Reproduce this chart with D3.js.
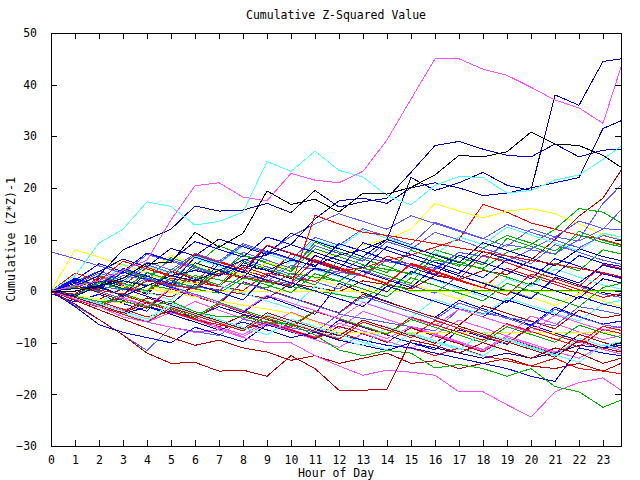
<!DOCTYPE html>
<html>
<head>
<meta charset="utf-8">
<title>Cumulative Z-Squared Value</title>
<script src="https://d3js.org/d3.v7.min.js"></script>
<style>
  body { margin: 0; background: #fff; }
  text { font-family: "DejaVu Sans Mono", "Liberation Mono", monospace; font-size: 11.5px; fill: #000; }
</style>
</head>
<body>
<div id="chart"></div>
<script>
// sample times (hour of day), one value per hour plus the last quarter
const hours = [0,1,2,3,4,5,6,7,8,9,10,11,12,13,14,15,16,17,18,19,20,21,22,23,23.75];
const xTicks = [0,1,2,3,4,5,6,7,8,9,10,11,12,13,14,15,16,17,18,19,20,21,22,23];
const yTicks = [-30,-20,-10,0,10,20,30,40,50];

const palette = {
  red: "#ff0000", green: "#00b000", blue: "#0000ff", magenta: "#ff50ff",
  cyan: "#50ffff", darkred: "#b00000", yellow: "#ffff00", medblue: "#5a5aff",
  navy: "#0000b0", black: "#000000"
};

// colour of each line, same order as lineValues
const lineColors = [
  "red","green","blue","magenta","cyan","darkred","yellow","medblue","navy",
  "red","yellow","darkred","medblue","medblue","green",
  "medblue","blue","magenta","magenta","darkred","red","blue","navy",
  "medblue","cyan","green","medblue","red","blue","cyan","darkred","green","yellow","yellow",
  "red","blue","green","magenta","cyan","darkred","navy","red","medblue","cyan","green","blue","medblue",
  "navy","blue","red","green",
  "magenta","green","darkred","red",
  "navy","navy","navy","cyan","black","magenta"
];

// cumulative (z*z)-1 per line, one value per entry of hours
const lineValues = [
  [0.5,-1.2,2.8,1.1,4.6,3.0,1.8,5.9,4.1,2.7,7.2,5.6,4.0,2.9,6.8,5.1,3.3,2.0,0.6,4.4,2.9,1.3,-0.2,3.5,2.4],
  [0,1.9,0.4,3.8,2.1,6.5,4.9,8.8,7.0,5.6,4.1,9.5,7.6,6.2,4.8,3.1,8.0,6.6,5.1,10.2,8.7,7.1,11.6,9.8,8.9],
  [-0.5,-2.1,-0.6,-2.4,-3.9,0.8,-0.9,-2.5,-4.1,-1.0,-2.7,-4.5,1.5,-0.3,-2.0,-3.6,-5.1,-1.8,-3.4,-5.0,-6.6,-3.1,-4.9,-6.4,-5.8],
  [0,-1.6,-3.0,-1.2,-2.9,-4.4,-2.0,-3.7,-5.3,-6.8,-4.1,-5.8,-7.2,-3.9,-5.5,-7.0,-8.4,-5.6,-7.1,-8.7,-4.8,-6.3,-7.9,-9.4,-8.6],
  [0,2.6,1.0,5.2,3.5,2.0,6.4,4.8,3.1,1.7,5.9,4.2,2.8,1.3,-0.2,3.6,2.1,0.5,-1.1,2.4,0.9,4.3,2.7,1.2,0.4],
  [0,-1.4,-2.9,-4.3,-2.2,-3.8,-5.4,-6.9,-4.6,-6.2,-7.7,-9.2,-6.8,-8.3,-9.9,-7.1,-8.7,-10.2,-11.8,-9.0,-10.6,-12.1,-8.4,-9.9,-11.0],
  [0,8.0,6.6,5.0,3.6,6.9,5.3,3.8,2.2,5.6,4.1,2.5,1.0,-0.5,2.9,1.4,-0.1,-1.6,1.8,0.3,-1.2,-2.8,-0.4,-1.9,-3.0],
  [7.6,6.3,4.9,3.4,7.1,5.8,4.3,2.9,6.2,4.7,3.3,1.8,0.4,4.0,2.5,1.1,-0.4,3.0,1.6,0.1,-1.3,2.4,0.9,-0.6,-1.2],
  [0,-1.2,2.4,0.9,-0.6,3.8,2.3,0.8,5.5,4.0,2.4,6.9,5.3,3.8,2.2,0.7,4.6,3.0,1.5,0,-1.5,2.7,1.2,-0.3,-0.9],
  [0,-0.8,1.5,0.7,-0.1,2.5,1.7,0.9,0.1,3.5,2.7,1.9,4,4.5,6,7,8.5,10,16.8,15.3,13.2,12,10.8,10,9],
  [0,-0.8,1.5,0.7,3,2.2,1.4,4,3.2,5.5,4.7,7.5,6.7,9,10,12,17,15.5,14.2,15.5,16,15,13,11,10],
  [0,-0.8,-1.6,0.5,-0.3,-1.1,1,0.2,-0.6,-1.4,1.5,0.7,-0.1,2,1.2,0.4,3,2.2,4,3.2,6,10,14.5,18,23.4],
  [0,1.5,0.7,3,2.2,1.4,0.6,3.5,2.7,1.9,5,4.2,3.4,6.5,5.7,4.9,4.1,7.5,6.7,5.9,8,7.2,10,17,20.5],
  [0,-0.8,1,0.2,2.5,1.7,0.9,0.1,3,2.2,1.4,4.5,3.7,2.9,6,5.2,4.4,7.5,6.7,9,8.2,10.5,9.7,12,15.7],
  [0,0.7,-0.1,2,1.2,0.4,3,2.2,1.4,0.6,3.5,2.7,1.9,5,4.2,3.4,6,5.2,4.4,7.5,9,12,16,15.3,13.2],
  [0,-2.8,-5.5,-8.5,-11.5,-7,-7.8,-8.6,-5.5,-6.3,-7.1,-7.9,-4.5,-5.3,-6.1,-6.9,-7.7,-3.5,-4.3,-5.1,-5.9,-6.7,-3,-3.8,-4.5],
  [0,-3,-6.5,-8,-9,-10,-7,-8.4,-9.8,-6.5,-7.9,-9.3,-5.6,-7.0,-8.5,-10,-11.4,-7.5,-8.9,-10.3,-6.6,-8.1,-9.6,-11,-10.5],
  [0,-1.5,-3,-4.5,-6,-4.1,-5.6,-7.2,-8.8,-6.3,-7.8,-9.4,-10.9,-8.2,-9.7,-11.2,-8.5,-10.0,-11.6,-9.0,-10.5,-12.0,-9.8,-11.3,-12.2],
  [0,-0.8,-2.3,-3.8,-2.0,-3.5,-5.0,-7,-8.4,-5.9,-7.4,-8.9,-6.2,-7.7,-9.2,-6.8,-8.3,-9.8,-11.3,-8.7,-10.2,-11.7,-13,-10.5,-11.5],
  [0,-1.8,-3.6,-5.4,-7.2,-9,-10.5,-9.5,-11,-11.8,-13.4,-12.5,-14,-13,-12,-14,-13.5,-15,-14,-13,-14.5,-15,-14,-15.5,-14],
  [0,-1,-2,-3.5,-5,-4,-5.5,-6.5,-7.5,-6,-7.5,-9,-8,-9.5,-10.5,-11,-12.5,-11,-12.5,-13.5,-14.5,-13,-15,-15.5,-16],
  [0,-1,-2,-1.5,-3,-4,-5,-3,-4.5,-5.5,-6.5,-7.5,-8.5,-9.5,-10.5,-11,-12,-13,-14,-15,-16.5,-17.5,-11,-12,-12.5],
  [0,-1.5,-3,-4.5,-3,-4.5,-6,-7.5,-6,-7.5,-9,-8,-9.5,-10.5,-11.5,-10,-11,-12,-13,-12,-13,-12,-10.5,-11,-10],
  [0,1.8,3.9,2.4,5.6,4.1,7.3,5.8,9.2,7.6,6.1,10.4,8.9,12.1,10.6,9.0,13.3,11.8,10.2,8.7,12.0,10.5,13.6,12.1,11.9],
  [0,0.8,3.2,1.7,4.9,3.4,6.8,5.3,8.7,7.2,5.6,9.9,8.4,11.8,10.2,8.7,7.1,10.5,9.0,12.4,10.9,9.3,7.8,11.2,10.5],
  [0,-0.7,1.5,4.0,2.5,1.0,4.8,3.3,6.9,5.4,3.8,8.2,6.7,5.1,3.6,7.9,6.4,4.8,8.3,10.8,9.3,7.8,10.9,9.4,8.6],
  [0,2.4,0.9,4.2,2.7,6.1,4.6,3.0,7.5,6.0,4.4,8.8,7.3,5.8,9.6,8.1,11.4,9.9,8.3,6.8,5.3,9.0,7.5,6.0,5.2],
  [0,-0.6,2.8,1.3,-0.2,3.9,2.4,0.9,4.7,3.2,1.6,6.1,4.6,3.0,1.5,5.4,3.9,2.3,7.0,5.5,3.9,2.4,0.9,5.2,4.4],
  [0,1.8,0.3,3.7,2.2,0.7,5.5,4.0,2.4,7.8,6.3,4.7,9.2,7.7,6.1,4.6,3.1,7.0,5.5,4.0,2.4,6.3,4.8,3.3,2.6],
  [0,-1.1,-2.5,1.3,-0.2,-1.7,2.6,1.1,-0.4,-1.9,-3.4,0.9,-0.6,-2.1,-3.6,-5.1,-1.6,-3.1,-4.6,-1.3,-2.8,-4.3,-5.8,-2.5,-1.8],
  [0,1.2,-0.3,-1.8,-3.3,0.5,-1.0,-2.5,1.8,0.3,-1.2,-2.7,-4.2,-0.6,-2.1,-3.6,-5.1,-6.6,-2.8,-4.3,-5.8,-7.3,-3.7,-5.2,-4.6],
  [0,1,0.2,-0.6,2,1.2,0.4,-0.4,2.5,1.7,0.9,0.1,-0.7,-1.5,1.5,0.05,0.05,0.05,0.05,0.05,0.05,0.05,0.05,0.05,0.05],
  [0,0.8,1.6,0.8,1.2,-0.15,-0.15,-0.15,-0.15,-0.15,-0.15,-0.15,-0.15,-0.15,-0.15,-0.15,-0.15,-0.15,-0.15,-0.15,-0.15,-0.15,-0.15,-0.15,-0.15],
  [0,-0.8,-1.6,-2.4,0.5,-0.3,-1.1,-1.9,-2.7,-3.5,-4.3,-6,-8.1,-8.1,-8.1,-8.1,-8.1,-8.1,-8.1,-8.1,-8.1,-8.1,-8.1,-8.1,-8.1],
  [0,-1.6,-3.1,-0.8,-2.3,-3.8,-5.3,-2.5,-4.0,-5.5,-7.0,-3.9,-5.4,-6.9,-8.4,-5.0,-6.5,-8.0,-9.5,-6.3,-7.8,-9.3,-10.8,-7.4,-8.2],
  [0,-0.8,2.0,0.5,-1.0,-2.5,1.3,-0.2,-1.7,3.1,1.6,0.0,-1.5,-3.0,1.0,-0.5,-2.0,-3.5,-5.0,-1.7,-3.2,-4.7,-1.0,-2.5,-3.3],
  [0,-1.2,-2.7,-0.5,-2.0,-3.5,-5.0,-2.2,-3.7,-5.2,-6.7,-3.8,-5.3,-6.8,-8.3,-5.5,-7.0,-8.5,-10.0,-6.9,-8.4,-9.9,-6.6,-8.1,-9.0],
  [0,1.5,0.0,-1.5,-3.0,0.6,-0.9,-2.4,-3.9,-0.8,-2.3,-3.8,-5.3,-2.2,-3.7,-5.2,-6.7,-3.5,-5.0,-6.5,-8.0,-4.6,-6.1,-7.6,-6.8],
  [0,-1.3,-2.8,-4.3,-5.8,-3.0,-4.5,-6.0,-7.5,-4.6,-6.1,-7.6,-9.1,-10.6,-6.9,-8.4,-9.9,-11.4,-8.0,-9.5,-11.0,-12.5,-9.1,-10.6,-9.8],
  [0,-1.2,-2.7,-4.2,-1.3,-2.8,-4.3,-5.8,-7.3,-4.2,-5.7,-7.2,-8.7,-5.6,-7.1,-8.6,-10.1,-6.8,-8.3,-9.8,-11.3,-12.8,-9.5,-11.0,-11.8],
  [0,2.2,0.7,-0.8,3.6,2.1,0.6,5.2,3.7,2.1,0.6,4.5,3.0,1.4,-0.1,3.8,2.3,0.8,-0.7,-2.2,1.6,0.1,-1.4,2.4,1.6],
  [0,-1.5,-3.0,-4.5,-6.0,-3.2,-4.7,-6.2,-7.7,-4.8,-6.3,-7.8,-9.3,-6.0,-7.5,-9.0,-5.7,-7.2,-8.7,-10.2,-7.0,-8.5,-10.0,-6.8,-7.6],
  [0,1.5,0.0,-1.5,2.4,0.9,-0.6,-2.1,1.7,0.2,-1.3,-2.8,-4.3,-1.0,-2.5,-4.0,-5.5,-2.3,-3.8,-5.3,-6.8,-3.5,-5.0,-6.5,-7.1],
  [0,-0.9,-2.4,-3.9,-5.4,-2.5,-4.0,-5.5,-7.0,-8.5,-5.4,-6.9,-8.4,-9.9,-11.4,-8.1,-9.6,-11.1,-12.6,-9.3,-10.8,-12.3,-13.8,-10.4,-11.2],
  [0,0.8,3.0,1.5,0.0,4.2,2.7,1.2,5.8,4.3,2.8,1.2,6.0,4.5,3.0,1.5,7.2,5.7,4.2,2.7,1.2,5.4,3.9,8.0,7.2],
  [0,2.5,1.0,4.4,2.9,1.4,6.6,5.1,3.6,8.8,7.3,5.8,4.2,9.4,7.9,6.4,4.9,3.4,7.7,6.2,4.7,3.2,6.9,5.4,4.8],
  [0,1.2,3.5,2.0,5.1,3.6,7.0,5.5,8.9,7.4,10.6,13.0,15.0,13.5,12.0,14.6,13.1,11.6,10.1,12.9,11.4,9.9,8.4,10.8,9.9],
  [0,1.5,3.8,6.2,4.7,8.3,6.8,10.1,8.6,7.1,11.2,9.7,8.2,6.7,10.0,8.5,7.0,5.5,9.4,7.9,6.4,4.9,8.2,6.7,5.9],
  [0,2.1,5.3,3.8,7.4,5.9,9.6,8.1,6.6,10.5,9.0,7.5,6.0,4.5,8.6,7.1,5.6,4.1,2.6,6.1,4.6,3.1,1.6,5.0,4.2],
  [0,3.5,2.0,5.8,4.3,2.8,7.1,5.6,4.1,8.9,7.4,5.9,4.4,2.9,1.4,5.2,3.7,2.2,0.7,-0.8,3.3,1.8,0.3,-1.2,-0.5],
  [0,-0.9,1.8,0.3,3.6,2.1,0.6,4.2,2.7,1.2,-0.3,3.4,1.9,0.4,-1.1,2.6,1.1,-0.4,-1.9,1.5,0.0,-1.5,-3.0,0.7,1.5],
  // lowest lines
  [0,-1.5,-3,-5,-6,-7,-8,-7.5,-9,-10,-10,-12.5,-14.5,-16.3,-15.3,-15.7,-16.3,-19.5,-19.5,-22,-24.4,-19.5,-17.7,-16.8,-19.2],
  [0,-1,-2,-2,-3,-2,-4,-5,-5,-6,-6.5,-8.5,-11.4,-12.5,-11.5,-12,-14.9,-14.2,-15,-16.5,-15,-18.5,-19.5,-22.5,-21.1],
  [0,-2.5,-5.5,-8.5,-12,-14,-13.8,-15.5,-15.3,-16.5,-12.5,-15,-19.2,-19.2,-19,-9.5,-10.5,-12,-10,-11.5,-13,-11,-12,-14,-13],
  [0,1,0.2,-0.6,2,1.2,0.4,3.5,2.7,1.9,1.1,14.7,13,11.4,10.8,10,9.2,8.4,7.6,6.8,6,5.2,4.4,3.6,2.8],
  // highest lines
  [0,-1,1,2,1,3,4,3,5,4,6,5,7,8,10,22,19.5,21,23,20.5,19.5,38,36,44.5,45],
  [0,0.5,1,-1,1,3,2,4,6,7,9,14,17.5,18,17,20,21,20,18.5,19,20,21,22,31.5,33],
  [0,1,3,8,10,12,16.5,15.5,15.7,17,15.2,19.5,16.3,17.3,18,23,28.2,29,27.5,26.3,26,28.5,26,27.3,27.5],
  [0,3,9.3,12,17.3,16.4,12.8,13.5,15.3,25.1,23.2,27.1,23.4,22.1,18.5,16.7,20.5,22.2,22,19,19.5,21.5,22.5,25.5,28.1],
  [0,0,1,2.5,5.4,5.5,11.4,8.5,11.2,19.4,16.8,17.8,15.3,19,18.8,20.1,22.5,26.3,26,27,30.8,28.5,28.2,26.3,24],
  [0,1,2,4,6,13.8,20.4,21,18.2,17.5,22.8,21.5,21,23.2,29.3,37.2,45,45,43,41.8,39.5,37,35.5,32.5,43.4]
];

const margin = {top: 33, right: 19, bottom: 34, left: 51};
const w = 640 - margin.left - margin.right;
const h = 480 - margin.top - margin.bottom;
const tick = 6;

const svg = d3.select("#chart").append("svg")
    .attr("width", 640)
    .attr("height", 480);

const g = svg.append("g")
    .attr("transform", "translate(" + margin.left + "," + margin.top + ")");

const xScale = d3.scaleLinear().domain([0, 23.75]).range([0, w]);
const yScale = d3.scaleLinear().domain([-30, 50]).range([h, 0]);

// lines
const line = d3.line()
    .x((d, i) => xScale(hours[i]))
    .y(d => yScale(d));

g.selectAll("path.series")
    .data(lineValues)
    .enter()
    .append("path")
    .attr("class", "series")
    .attr("d", line)
    .attr("fill", "none")
    .attr("stroke", (d, i) => palette[lineColors[i]])
    .attr("stroke-width", 1)
    .attr("shape-rendering", "crispEdges");

// axes, gnuplot style: ticks point inwards and are mirrored
const xAxis = d3.axisBottom(xScale).tickValues(xTicks).tickSize(-tick).tickPadding(10).tickFormat(d3.format("d"));
const xTop = d3.axisTop(xScale).tickValues(xTicks).tickSize(-tick).tickFormat("");
const yAxis = d3.axisLeft(yScale).tickValues(yTicks).tickSize(-tick).tickPadding(14).tickFormat(d3.format("d"));
const yRight = d3.axisRight(yScale).tickValues(yTicks).tickSize(-tick).tickFormat("");

function styleAxis(sel) {
  sel.select(".domain").remove();
  sel.selectAll("line").attr("stroke", "#000").attr("shape-rendering", "crispEdges");
  sel.selectAll("text").attr("fill", "#000").style("font-size", "11.5px")
     .style("font-family", "'DejaVu Sans Mono', 'Liberation Mono', monospace");
}

g.append("g").attr("transform", "translate(0," + h + ")").call(xAxis).call(styleAxis);
g.append("g").call(xTop).call(styleAxis);
g.append("g").call(yAxis).call(styleAxis);
g.append("g").attr("transform", "translate(" + w + ",0)").call(yRight).call(styleAxis);

g.append("rect")
    .attr("x", 0.5).attr("y", 0.5)
    .attr("width", w).attr("height", h)
    .attr("fill", "none")
    .attr("stroke", "#000")
    .attr("shape-rendering", "crispEdges");

// title and axis labels
svg.append("text")
    .attr("x", margin.left + w / 2)
    .attr("y", 19)
    .attr("text-anchor", "middle")
    .text("Cumulative Z-Squared Value");

svg.append("text")
    .attr("x", margin.left + w / 2)
    .attr("y", 477)
    .attr("text-anchor", "middle")
    .text("Hour of Day");

svg.append("text")
    .attr("transform", "translate(15," + (margin.top + h / 2) + ") rotate(-90)")
    .attr("text-anchor", "middle")
    .text("Cumulative (Z*Z)-1");
</script>
</body>
</html>
